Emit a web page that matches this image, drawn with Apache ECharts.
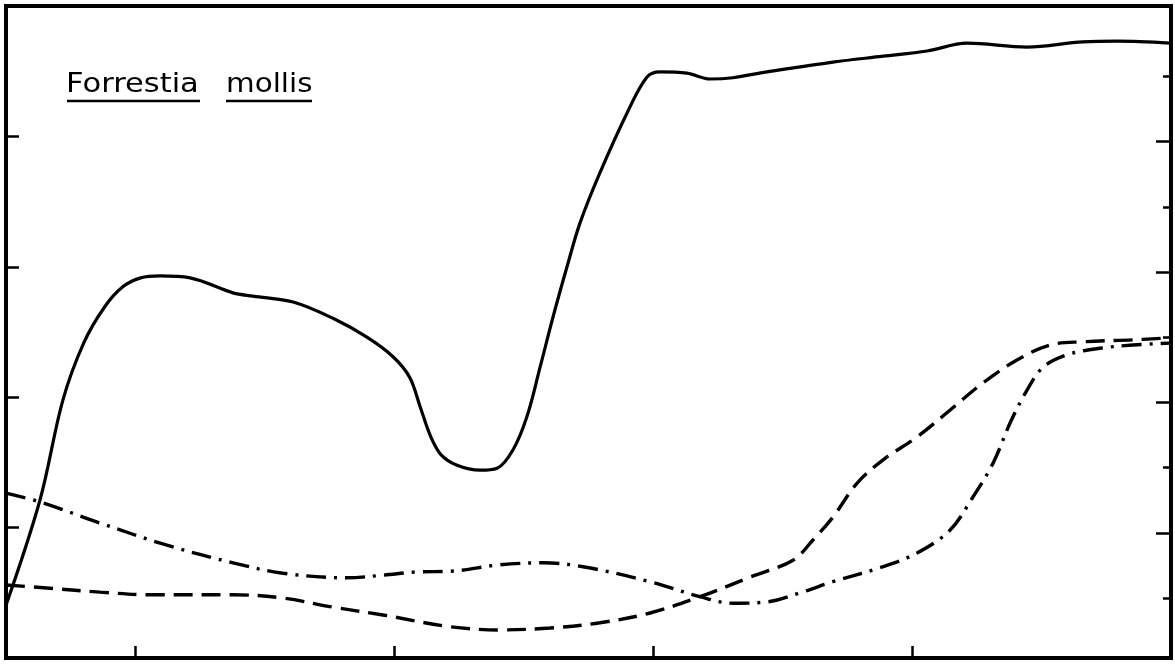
<!DOCTYPE html>
<html>
<head>
<meta charset="utf-8">
<script src="https://cdn.jsdelivr.net/npm/echarts@6/dist/echarts.min.js"></script>
<style>
html,body{margin:0;padding:0;background:#fff;}
#chart{width:1175px;height:667px;}
</style>
</head>
<body>
<div id="chart"></div>
<script>
// ---- data (x in arbitrary units 0..450, y in % of frame height 0..100) ----
const titleWords = ["Forrestia", "mollis"];

const solidX = [0, 13.1, 22.0, 30.0, 38.0, 45.0, 52.0, 59.5, 71.1, 87.7, 95.4, 110.9, 126.3, 139.4, 149.5, 156.0, 160.0, 164.0, 168.0, 174.0, 183.1, 189.7, 195.8, 201.2, 206.3, 211.3, 216.7, 221.7, 229.4, 239.9, 247.6, 252.6, 263.0, 271.9, 280.8, 293.9, 319.4, 338.8, 355.8, 371.2, 394.4, 416.0, 429.2, 449.6];
const solidY = [8.1, 24.2, 39.6, 48.3, 53.8, 56.9, 58.3, 58.6, 58.3, 56.0, 55.5, 54.6, 52.1, 49.2, 46.2, 43.0, 38.5, 34.0, 31.2, 29.6, 28.8, 29.1, 31.9, 37.0, 44.6, 52.3, 60.0, 66.7, 74.4, 83.6, 89.1, 89.9, 89.7, 88.8, 89.0, 89.9, 91.4, 92.3, 93.1, 94.3, 93.7, 94.5, 94.6, 94.3];

const dashDotX = [0, 14.3, 36.3, 62.2, 87.7, 107.0, 131.7, 145.6, 158.8, 171.5, 190.8, 207.4, 222.9, 248.8, 268.1, 280.8, 293.9, 306.7, 319.4, 338.8, 351.9, 364.6, 373.5, 381.3, 387.8, 394.4, 400.6, 409.8, 422.6, 435.3, 449.6];
const dashDotY = [25.3, 23.8, 20.7, 17.3, 14.6, 13.0, 12.3, 12.7, 13.2, 13.3, 14.3, 14.6, 14.0, 11.7, 9.4, 8.4, 8.6, 10.0, 11.7, 14.0, 16.1, 19.6, 24.7, 29.9, 36.0, 41.1, 44.6, 46.5, 47.5, 48.0, 48.3];

const dashedX = [0, 17.0, 36.3, 55.6, 87.7, 107.0, 126.3, 145.6, 171.5, 190.8, 210.1, 229.4, 248.8, 268.1, 287.4, 304.0, 311.7, 319.4, 328.7, 338.8, 351.9, 364.6, 377.4, 390.5, 403.3, 416.0, 435.3, 449.6];
const dashedY = [11.2, 10.7, 10.1, 9.7, 9.7, 9.2, 7.8, 6.6, 4.8, 4.3, 4.6, 5.4, 6.9, 9.4, 12.4, 15.0, 18.1, 21.6, 26.8, 30.4, 33.9, 38.0, 42.2, 45.7, 48.0, 48.5, 48.8, 49.1];

const xTicks = [50, 150, 250, 350];
const rightLongTicks = [19.2, 39.2, 59.2, 79.2];
const rightShortTicks = [9.2, 29.2, 49.2, 69.2, 89.2];

const zip = (xs, ys) => xs.map((x, i) => [x, ys[i]]);

const chart = echarts.init(document.getElementById('chart'));
const tickStyle = {color: '#000', width: 2.5};
const lineBase = {show: false};

chart.setOption({
  animation: false,
  backgroundColor: '#fff',
  grid: {left: 6, top: 6, width: 1165, height: 652, show: true, borderColor: '#000', borderWidth: 4, backgroundColor: 'transparent'},
  xAxis: {
    type: 'value', min: 0, max: 450,
    axisLine: lineBase,
    axisTick: {show: true, inside: true, length: 12, lineStyle: tickStyle, customValues: xTicks},
    axisLabel: {show: false},
    splitLine: {show: false}
  },
  yAxis: [
    {type: 'value', min: 0, max: 100, interval: 20, position: 'left',
     axisLine: lineBase,
     axisTick: {show: true, inside: true, length: 13, lineStyle: tickStyle},
     axisLabel: {show: false}, splitLine: {show: false}},
    {type: 'value', min: 0, max: 100, position: 'right',
     axisLine: lineBase,
     axisTick: {show: true, inside: true, length: 15, lineStyle: tickStyle, customValues: rightLongTicks},
     axisLabel: {show: false}, splitLine: {show: false}},
    {type: 'value', min: 0, max: 100, position: 'right',
     axisLine: lineBase,
     axisTick: {show: true, inside: true, length: 8, lineStyle: tickStyle, customValues: rightShortTicks},
     axisLabel: {show: false}, splitLine: {show: false}}
  ],
  series: [
    {type: 'line', data: zip(solidX, solidY), showSymbol: false, smooth: 0.35,
     lineStyle: {color: '#000', width: 3.2, type: 'solid'}},
    {type: 'line', data: zip(dashedX, dashedY), showSymbol: false, smooth: 0.35,
     lineStyle: {color: '#000', width: 3.4, type: [19, 9]}},
    {type: 'line', data: zip(dashDotX, dashDotY), showSymbol: false, smooth: 0.35,
     lineStyle: {color: '#000', width: 3.4, type: [20, 8, 3, 8]}}
  ],
  graphic: [
    {type: 'text', x: 66, y: 71, scaleX: 1.13, style: {text: titleWords[0], font: '27px "DejaVu Sans"', fill: '#000'}},
    {type: 'text', x: 226, y: 71, scaleX: 1.09, style: {text: titleWords[1], font: '27px "DejaVu Sans"', fill: '#000'}},
    {type: 'line', shape: {x1: 67, y1: 101, x2: 200, y2: 101}, style: {stroke: '#000', lineWidth: 2.5}},
    {type: 'line', shape: {x1: 226, y1: 101, x2: 312, y2: 101}, style: {stroke: '#000', lineWidth: 2.5}}
  ]
});
</script>
</body>
</html>
